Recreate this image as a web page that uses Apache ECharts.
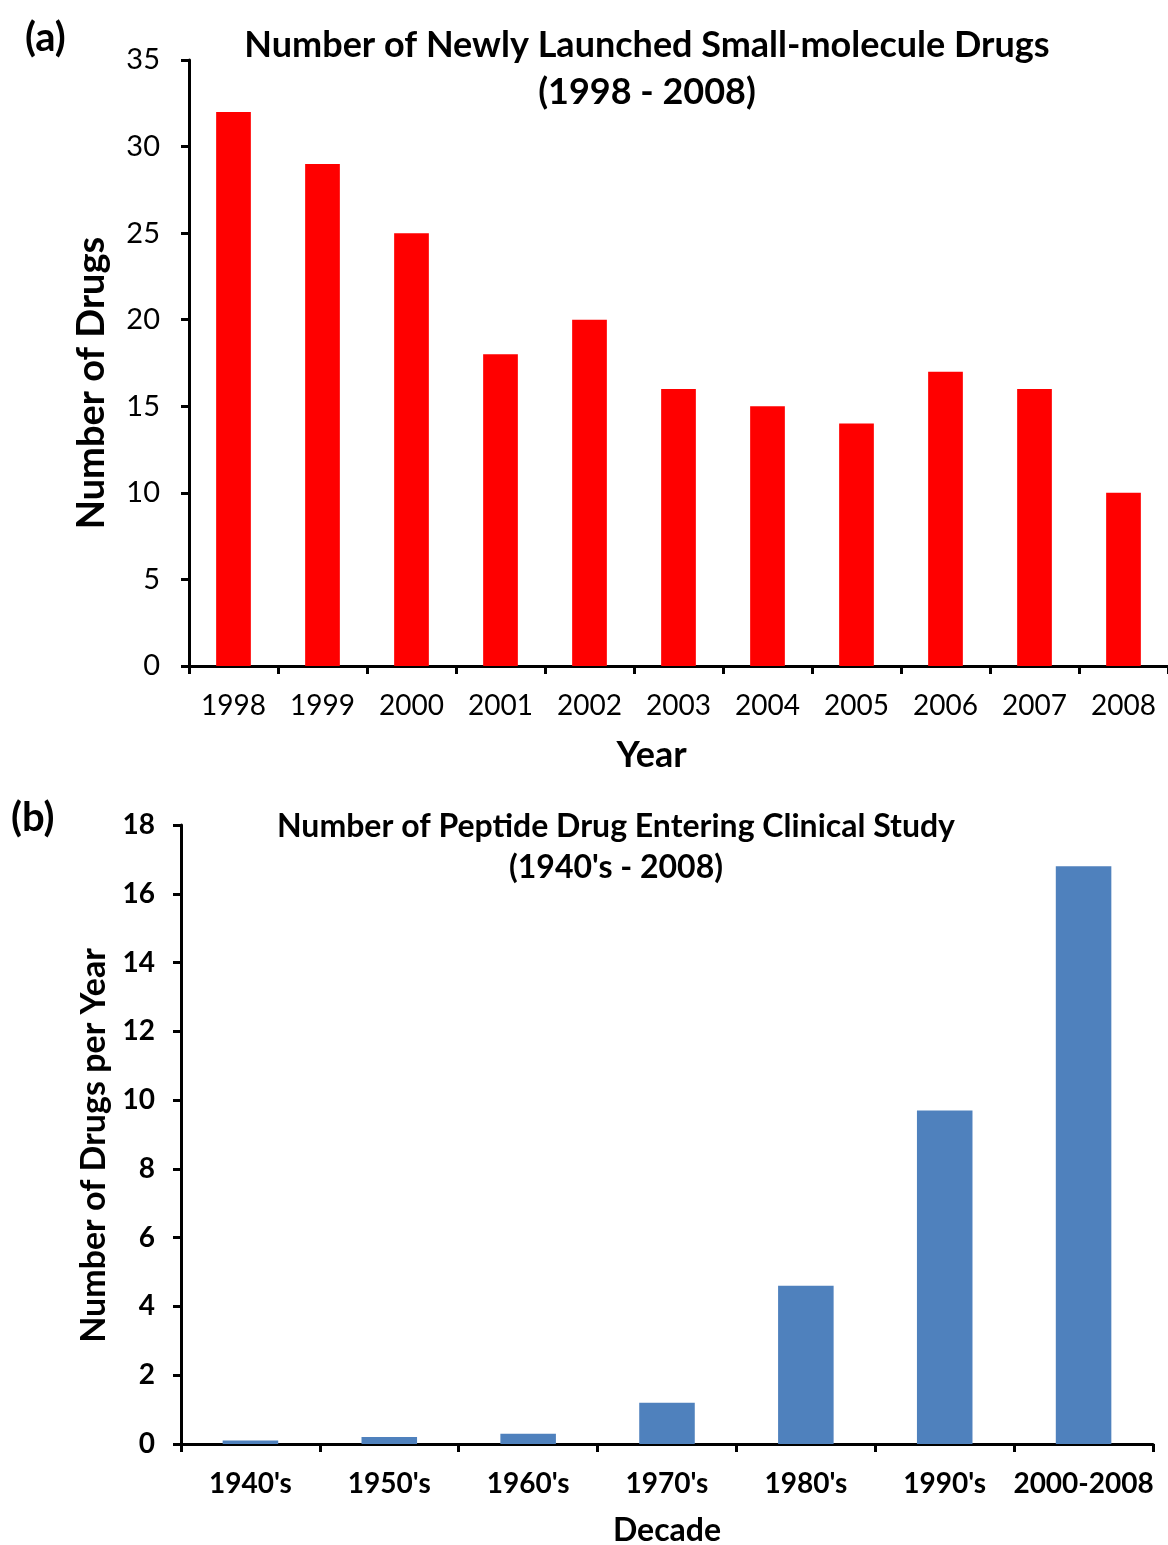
<!DOCTYPE html>
<html><head><meta charset="utf-8">
<script src="https://cdn.jsdelivr.net/npm/echarts@6/dist/echarts.min.js"></script>
<style>html,body{margin:0;padding:0;background:#fff}#c{width:1168px;height:1545px}</style>
</head><body><div id="c"></div>
<script>
const years = ['1998','1999','2000','2001','2002','2003','2004','2005','2006','2007','2008'];
const smallMolecule = [32, 29, 25, 18, 20, 16, 15, 14, 17, 16, 10];
const decades = ["1940's","1950's","1960's","1970's","1980's","1990's","2000-2008"];
const peptide = [0.1, 0.2, 0.3, 1.2, 4.6, 9.7, 16.8];

const F = 'Lato, "Open Sans", sans-serif';
const axisLine = {show:true, lineStyle:{color:'#000', width:3}};
const tick = {show:true, length:8, lineStyle:{color:'#000', width:3}};
const chart = echarts.init(document.getElementById('c'));
chart.setOption({
  backgroundColor:'#fff',
  animation:false,
  title:[
    {text:'Number of Newly Launched Small-molecule Drugs\n(1998 - 2008)', left:642, top:17, textAlign:'center',
     textStyle:{fontFamily:F, fontWeight:'bold', fontSize:36, lineHeight:47, color:'#000'}},
    {text:"Number of Peptide Drug Entering Clinical Study\n(1940's - 2008)", left:611, top:801, textAlign:'center',
     textStyle:{fontFamily:F, fontWeight:'bold', fontSize:32, lineHeight:41, color:'#000'}},
    {text:'(a)', left:20, top:13, textStyle:{fontFamily:F, fontWeight:'bold', fontSize:40, color:'#000'}},
    {text:'(b)', left:6, top:793, textStyle:{fontFamily:F, fontWeight:'bold', fontSize:40, color:'#000'}}
  ],
  grid:[
    {left:189, top:60, width:979, height:606, outerBoundsMode:'none'},
    {left:181, top:825, width:972, height:619, outerBoundsMode:'none'}
  ],
  xAxis:[
    {type:'category', gridIndex:0, data:years, axisLine, axisTick:tick,
     axisLabel:{interval:0, fontFamily:F, fontWeight:'normal', fontSize:28, color:'#000', margin:26},
     name:'Year', nameLocation:'middle', nameGap:71,
     nameTextStyle:{fontFamily:F, fontWeight:'bold', fontSize:36, color:'#000', padding:[0,54,0,0]}},
    {type:'category', gridIndex:1, data:decades, axisLine, axisTick:tick,
     axisLabel:{interval:0, fontFamily:F, fontWeight:'bold', fontSize:28, color:'#000', margin:26},
     name:'Decade', nameLocation:'middle', nameGap:71,
     nameTextStyle:{fontFamily:F, fontWeight:'bold', fontSize:32, color:'#000'}}
  ],
  yAxis:[
    {type:'value', gridIndex:0, min:0, max:35, interval:5, axisLine, axisTick:tick, splitLine:{show:false},
     axisLabel:{fontFamily:F, fontWeight:'normal', fontSize:29, color:'#000', margin:29},
     name:'Number of Drugs', nameLocation:'middle', nameGap:78,
     nameTextStyle:{fontFamily:F, fontWeight:'bold', fontSize:38, color:'#000', padding:[0,40,0,0]}},
    {type:'value', gridIndex:1, min:0, max:18, interval:2, axisLine, axisTick:tick, splitLine:{show:false},
     axisLabel:{fontFamily:F, fontWeight:'bold', fontSize:28, color:'#000', margin:26},
     name:'Number of Drugs per Year', nameLocation:'middle', nameGap:70,
     nameTextStyle:{fontFamily:F, fontWeight:'bold', fontSize:34, color:'#000', padding:[0,22,0,0]}}
  ],
  series:[
    {type:'bar', xAxisIndex:0, yAxisIndex:0, data:smallMolecule, barWidth:'39%', itemStyle:{color:'#FF0000'}},
    {type:'bar', xAxisIndex:1, yAxisIndex:1, data:peptide, barWidth:'40%', itemStyle:{color:'#4F81BD'}}
  ]
});
</script></body></html>
